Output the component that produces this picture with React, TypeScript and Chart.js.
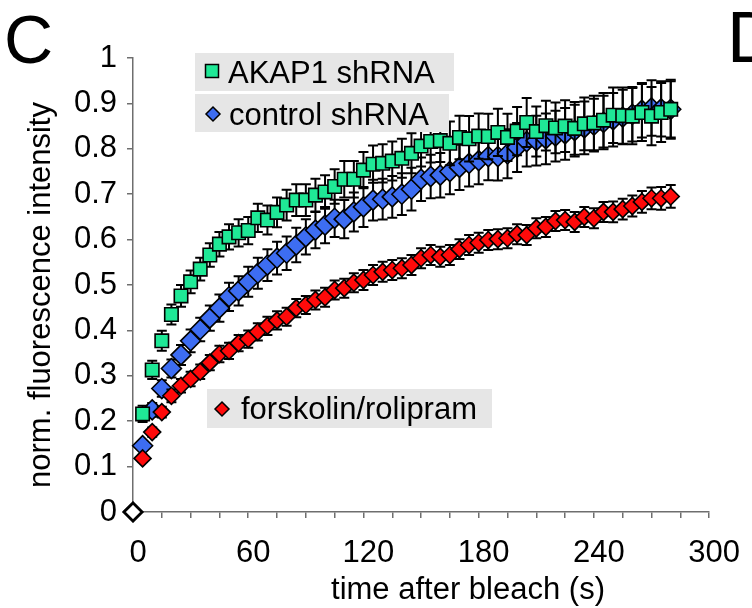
import React, { useEffect, useRef } from "react";
import { Chart, registerables } from "chart.js";

Chart.register(...registerables);

// ---------- data ----------
const timeS = [
  0, 5, 10, 15, 20, 25, 30, 35, 40, 45,
  50, 55, 60, 65, 70, 75, 80, 85, 90, 95,
  100, 105, 110, 115, 120, 125, 130, 135, 140, 145,
  150, 155, 160, 165, 170, 175, 180, 185, 190, 195,
  200, 205, 210, 215, 220, 225, 230, 235, 240, 245,
  250, 255, 260, 265, 270, 275, 280,
];

const akap1 = [
  0, 0.216, 0.313, 0.377, 0.435, 0.476, 0.507, 0.535, 0.566, 0.59,
  0.606, 0.615, 0.62, 0.648, 0.643, 0.66, 0.676, 0.687, 0.687, 0.698,
  0.705, 0.717, 0.733, 0.733, 0.753, 0.766, 0.768, 0.773, 0.779, 0.79,
  0.806, 0.816, 0.818, 0.812, 0.825, 0.822, 0.828, 0.827, 0.836, 0.825,
  0.839, 0.858, 0.838, 0.851, 0.846, 0.85, 0.845, 0.855, 0.857, 0.863,
  0.874, 0.873, 0.872, 0.88, 0.872, 0.88, 0.887,
];
const akap1Err = [
  0, 0.018, 0.02, 0.022, 0.022, 0.024, 0.025, 0.025, 0.026, 0.027,
  0.028, 0.03, 0.03, 0.031, 0.032, 0.033, 0.034, 0.035, 0.035, 0.036,
  0.037, 0.038, 0.04, 0.04, 0.04, 0.041, 0.042, 0.043, 0.043, 0.044,
  0.045, 0.046, 0.047, 0.048, 0.048, 0.05, 0.05, 0.05, 0.052, 0.052,
  0.053, 0.054, 0.055, 0.055, 0.056, 0.057, 0.058, 0.058, 0.06, 0.06,
  0.061, 0.062, 0.062, 0.063, 0.064, 0.065, 0.065,
];

const control = [
  0, 0.146, 0.225, 0.272, 0.316, 0.346, 0.377, 0.402, 0.427, 0.449,
  0.474, 0.487, 0.507, 0.526, 0.544, 0.559, 0.57, 0.588, 0.606, 0.621,
  0.632, 0.647, 0.645, 0.661, 0.672, 0.687, 0.689, 0.694, 0.7, 0.711,
  0.733, 0.739, 0.742, 0.75, 0.759, 0.768, 0.774, 0.783, 0.783, 0.789,
  0.803, 0.816, 0.818, 0.822, 0.828, 0.833, 0.84, 0.846, 0.852, 0.858,
  0.864, 0.87, 0.876, 0.885, 0.89, 0.888, 0.887,
];
const controlErr = [
  0, 0.01, 0.015, 0.018, 0.02, 0.022, 0.025, 0.026, 0.028, 0.03,
  0.031, 0.032, 0.033, 0.034, 0.035, 0.036, 0.037, 0.038, 0.039, 0.04,
  0.04, 0.041, 0.042, 0.043, 0.044, 0.045, 0.045, 0.046, 0.046, 0.047,
  0.048, 0.048, 0.049, 0.05, 0.05, 0.051, 0.052, 0.052, 0.053, 0.054,
  0.054, 0.055, 0.055, 0.056, 0.056, 0.057, 0.057, 0.058, 0.058, 0.059,
  0.059, 0.06, 0.06, 0.06, 0.061, 0.061, 0.062,
];

const forskolin = [
  0, 0.118, 0.176, 0.22, 0.256, 0.278, 0.293, 0.309, 0.329, 0.348,
  0.355, 0.372, 0.381, 0.397, 0.41, 0.422, 0.43, 0.449, 0.456, 0.467,
  0.473, 0.489, 0.493, 0.505, 0.511, 0.522, 0.529, 0.533, 0.537, 0.544,
  0.559, 0.566, 0.562, 0.566, 0.579, 0.588, 0.593, 0.599, 0.601, 0.603,
  0.612, 0.61, 0.625, 0.628, 0.641, 0.643, 0.639, 0.65, 0.647, 0.661,
  0.661, 0.667, 0.674, 0.683, 0.691, 0.691, 0.695,
];
const forskolinErr = [
  0, 0.008, 0.01, 0.012, 0.014, 0.015, 0.016, 0.016, 0.017, 0.018,
  0.018, 0.018, 0.019, 0.019, 0.02, 0.02, 0.02, 0.02, 0.02, 0.021,
  0.021, 0.021, 0.021, 0.021, 0.022, 0.022, 0.022, 0.022, 0.022, 0.022,
  0.022, 0.022, 0.022, 0.022, 0.022, 0.022, 0.022, 0.022, 0.022, 0.022,
  0.022, 0.022, 0.022, 0.022, 0.022, 0.022, 0.022, 0.022, 0.022, 0.022,
  0.023, 0.023, 0.023, 0.024, 0.024, 0.025, 0.025,
];

const seriesNames = ["AKAP1 shRNA", "control shRNA", "forskolin/rolipram"];
const xTickLabels = [0, 60, 120, 180, 240, 300];
const yTickLabels = [0, 0.1, 0.2, 0.3, 0.4, 0.5, 0.6, 0.7, 0.8, 0.9, 1];
const xTitle = "time after bleach (s)";
const yTitle = "norm. fluorescence intensity";
const panelLabels = ["C", "D"];

const FONT = "'Liberation Sans', Arial, Helvetica, sans-serif";
const GREEN = "#1fe896";
const BLUE = "#3d6df2";
const RED = "#ff0a0a";
const AXIS = "#6e6e6e";

const toPoints = (vals: number[]) => vals.map((v, i) => ({ x: timeS[i], y: v }));

const errorBarPlugin = {
  id: "errorBars",
  beforeDatasetDraw(chart: any, args: any) {
    const ds = chart.data.datasets[args.index];
    const errs: number[] | undefined = ds.errors;
    if (!errs) return;
    const yScale = chart.scales.y;
    const ctx = chart.ctx;
    ctx.save();
    ctx.strokeStyle = "#000";
    ctx.lineWidth = 2;
    args.meta.data.forEach((el: any, i: number) => {
      const e = errs[i];
      if (!e) return;
      const v = ds.data[i].y;
      const top = yScale.getPixelForValue(v + e);
      const bot = yScale.getPixelForValue(v - e);
      const x = el.x;
      ctx.beginPath();
      ctx.moveTo(x, top);
      ctx.lineTo(x, bot);
      ctx.moveTo(x - 5, top);
      ctx.lineTo(x + 5, top);
      ctx.moveTo(x - 5, bot);
      ctx.lineTo(x + 5, bot);
      ctx.stroke();
    });
    ctx.restore();
  },
};

function drawMarker(ctx: CanvasRenderingContext2D, style: string, x: number, y: number, r: number, fill: string) {
  ctx.save();
  ctx.fillStyle = fill;
  ctx.strokeStyle = "#000";
  ctx.lineWidth = 1.5;
  ctx.beginPath();
  if (style === "rect") {
    ctx.rect(x - r, y - r, 2 * r, 2 * r);
  } else {
    ctx.moveTo(x, y - r);
    ctx.lineTo(x + r, y);
    ctx.lineTo(x, y + r);
    ctx.lineTo(x - r, y);
    ctx.closePath();
  }
  ctx.fill();
  ctx.stroke();
  ctx.restore();
}

const decorPlugin = {
  id: "decor",
  afterDraw(chart: any) {
    const ctx: CanvasRenderingContext2D = chart.ctx;
    const boxes = [
      { x: 195, y: 53, w: 259, h: 38, mx: 212, my: 71, tx: 228, ty: 83, name: seriesNames[0], style: "rect", r: 6.5 },
      { x: 195, y: 94, w: 254, h: 38, mx: 213, my: 114, tx: 229, ty: 125, name: seriesNames[1], style: "diamond", r: 7 },
      { x: 207, y: 389, w: 285, h: 39, mx: 222, my: 409, tx: 241, ty: 419, name: seriesNames[2], style: "diamond", r: 7 },
    ];
    ctx.save();
    boxes.forEach((b) => {
      ctx.fillStyle = "#e6e6e6";
      ctx.fillRect(b.x, b.y, b.w, b.h);
      const ds = chart.data.datasets.find((d: any) => d.label === b.name);
      drawMarker(ctx, b.style, b.mx, b.my, b.r, ds.backgroundColor);
      ctx.fillStyle = "#000";
      ctx.font = `31px ${FONT}`;
      ctx.textAlign = "left";
      ctx.textBaseline = "alphabetic";
      ctx.fillText(b.name, b.tx, b.ty);
    });

    // axis titles
    ctx.fillStyle = "#000";
    ctx.font = `31px ${FONT}`;
    ctx.textAlign = "center";
    ctx.textBaseline = "alphabetic";
    ctx.fillText(xTitle, 468, 599);
    ctx.save();
    ctx.translate(50, 295);
    ctx.rotate(-Math.PI / 2);
    ctx.fillText(yTitle, 0, 0);
    ctx.restore();

    // panel letters
    ctx.textAlign = "left";
    ctx.font = `68px ${FONT}`;
    ctx.fillText(panelLabels[0], 4, 63);
    ctx.font = `72px ${FONT}`;
    ctx.fillText(panelLabels[1], 727, 62);
    ctx.restore();
  },
};

export default function App() {
  const canvasRef = useRef<HTMLCanvasElement | null>(null);

  useEffect(() => {
    if (!canvasRef.current) return;
    const markerFill = (color: string) => (c: any) => (c.dataIndex === 0 ? "#ffffff" : color);
    const markerBorder = (c: any) => (c.dataIndex === 0 ? 2.5 : 1.6);
    const chart = new Chart(canvasRef.current, {
      type: "scatter",
      data: {
        datasets: [
          {
            label: seriesNames[0],
            data: toPoints(akap1),
            errors: akap1Err,
            backgroundColor: GREEN,
            pointBackgroundColor: markerFill(GREEN),
            pointBorderColor: "#000",
            pointBorderWidth: markerBorder,
            pointStyle: (c: any) => (c.dataIndex === 0 ? "rectRot" : "rect"),
            pointRadius: (c: any) => (c.dataIndex === 0 ? 9 : 9.5),
            clip: false,
          } as any,
          {
            label: seriesNames[2],
            data: toPoints(forskolin),
            errors: forskolinErr,
            backgroundColor: RED,
            pointBackgroundColor: markerFill(RED),
            pointBorderColor: "#000",
            pointBorderWidth: markerBorder,
            pointStyle: "rectRot",
            pointRadius: (c: any) => (c.dataIndex === 0 ? 9 : 8.5),
            clip: false,
          } as any,
          {
            label: seriesNames[1],
            data: toPoints(control),
            errors: controlErr,
            backgroundColor: BLUE,
            pointBackgroundColor: markerFill(BLUE),
            pointBorderColor: "#000",
            pointBorderWidth: markerBorder,
            pointStyle: "rectRot",
            pointRadius: (c: any) => (c.dataIndex === 0 ? 9 : 10),
            clip: false,
          } as any,
        ],
      },
      options: {
        responsive: false,
        animation: false,
        events: [],
        layout: { padding: { left: 0, top: 58, right: 36, bottom: 0 } },
        plugins: {
          legend: { display: false },
          tooltip: { enabled: false },
        },
        scales: {
          x: {
            type: "linear",
            min: 0,
            max: 300,
            afterFit: (s: any) => {
              s.height = 96;
            },
            border: { display: true, color: AXIS, width: 1.5 },
            grid: { drawOnChartArea: false, drawTicks: true, tickLength: 6, color: AXIS, lineWidth: 1.5 },
            ticks: {
              stepSize: 15,
              autoSkip: false,
              maxRotation: 0,
              padding: 17,
              labelOffset: 5,
              color: "#000",
              font: { family: FONT, size: 31 },
              callback: (v: any) => (xTickLabels.includes(Number(v)) ? String(v) : ""),
            },
          },
          y: {
            type: "linear",
            min: 0,
            max: 1,
            afterFit: (s: any) => {
              s.width = 133;
            },
            border: { display: true, color: AXIS, width: 1.5 },
            grid: { drawOnChartArea: false, drawTicks: true, tickLength: 6, color: AXIS, lineWidth: 1.5 },
            ticks: {
              stepSize: 0.1,
              autoSkip: false,
              padding: 10,
              color: "#000",
              font: { family: FONT, size: 31 },
              callback: (v: any) => {
                const n = Math.round(Number(v) * 10) / 10;
                return yTickLabels.includes(n) ? String(n) : "";
              },
            },
          },
        },
      } as any,
      plugins: [errorBarPlugin, decorPlugin],
    });
    return () => chart.destroy();
  }, []);

  return (
    <div style={{ position: "absolute", left: 0, top: 0, width: 752, height: 608, background: "#fff" }}>
      <canvas ref={canvasRef} width={752} height={608} style={{ width: 752, height: 608, display: "block" }} />
    </div>
  );
}
